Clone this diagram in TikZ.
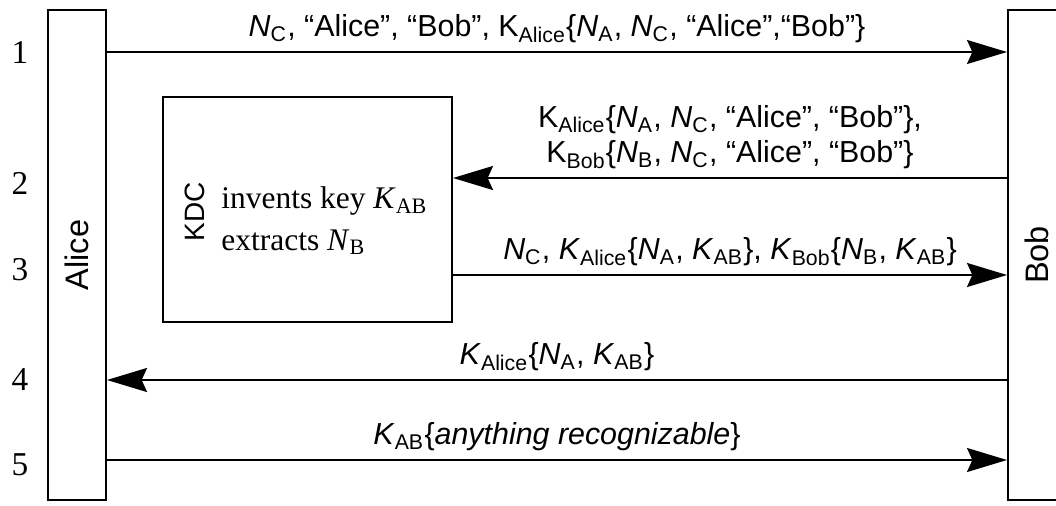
\documentclass[tikz,border=0pt]{standalone}
\usepackage{fontspec}
\setmainfont{Liberation Serif}
\setsansfont{Liberation Sans}
\usetikzlibrary{arrows.meta}
\newcommand{\ksub}[2]{#1\textsubscript{#2}}
\newcommand{\nonce}[1]{\ksub{\textit{N}}{#1}}
\tikzset{
  party box/.style={
    draw,line width=0.75pt,minimum width=58*0.375pt,
    minimum height=490*0.375pt,inner sep=0pt,
    font=\sffamily\fontsize{12.2}{14}\selectfont
  },
  kdc box/.style={draw,line width=0.75pt,minimum width=289*0.375pt,
    minimum height=225*0.375pt},
  msg/.style={line width=0.75pt,-{Stealth[length=15pt,width=9pt,inset=2pt]}},
  msg text/.style={font=\sffamily\fontsize{11.4}{13.2}\selectfont,
    align=center,inner sep=3pt},
  step num/.style={font=\fontsize{12.5}{15}\selectfont}
}

\begin{document}
\begin{tikzpicture}[x=0.375pt,y=-0.375pt]
  \useasboundingbox (0,0) rectangle (1056,506);
  \clip (0,0) rectangle (1056,506);

  \node[party box] (alice) at (77,255) {\rotatebox{90}{Alice}};
  \node[party box] (bob) at (1037,255) {\rotatebox{90}{Bob}};

  \node[kdc box] (kdc) at (307.5,209.5) {};
  \node[rotate=90,font=\sffamily\fontsize{10.5}{12}\selectfont]
    (kdcname) at (195,212) {KDC};
  \node[anchor=west,align=left,font=\fontsize{11.8}{15.5}\selectfont]
    (kdcwork) at (212,221)
    {invents key \ksub{\textit{K}}{AB}\\ extracts \nonce{B}};

  % message rows and their numbers
  \foreach \n/\ya/\yb in {1/52/52,2/178/183,3/275/270,4/380/380,5/460/465}{
    \coordinate (row\n) at (0,\ya);
    \node[step num] (num\n) at (20,\yb) {\n};
  }

  \draw[msg] (alice.east |- row1) -- node[msg text,above] (m1)
    {\nonce{C}, “Alice”, “Bob”, \ksub{K}{Alice}\{\nonce{A}, \nonce{C}, “Alice”,“Bob”\}}
    (bob.west |- row1);
  \draw[msg] (bob.west |- row2) -- node[msg text,above] (m2)
    {\ksub{K}{Alice}\{\nonce{A}, \nonce{C}, “Alice”, “Bob”\},\\
     \ksub{K}{Bob}\{\nonce{B}, \nonce{C}, “Alice”, “Bob”\}}
    (kdc.east |- row2);
  \draw[msg] (kdc.east |- row3) -- node[msg text,above] (m3)
    {\nonce{C}, \ksub{\textit{K}}{Alice}\{\nonce{A}, \ksub{\textit{K}}{AB}\},
     \ksub{\textit{K}}{Bob}\{\nonce{B}, \ksub{\textit{K}}{AB}\}}
    (bob.west |- row3);
  \draw[msg] (bob.west |- row4) -- node[msg text,above] (m4)
    {\ksub{\textit{K}}{Alice}\{\nonce{A}, \ksub{\textit{K}}{AB}\}}
    (alice.east |- row4);
  \draw[msg] (alice.east |- row5) -- node[msg text,above] (m5)
    {\ksub{\textit{K}}{AB}\{\textit{anything recognizable}\}}
    (bob.west |- row5);
\end{tikzpicture}
\end{document}
